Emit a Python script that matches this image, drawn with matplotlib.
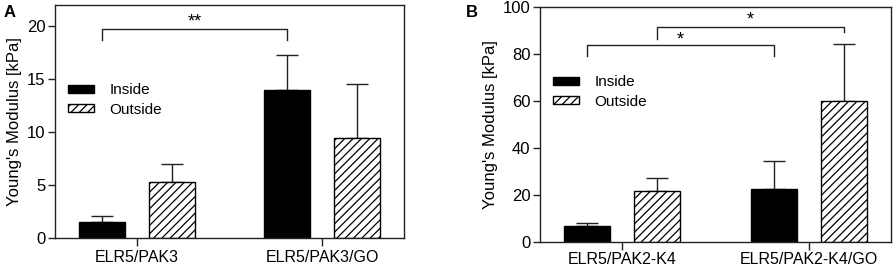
import matplotlib
matplotlib.use("Agg")
import matplotlib.pyplot as plt
import numpy as np

plt.rcParams["font.family"] = ["Liberation Sans", "DejaVu Sans"]
plt.rcParams["hatch.linewidth"] = 0.9

# panel A
groups_a = ["ELR5/PAK3", "ELR5/PAK3/GO"]
inside_a = [1.55, 14.0]
inside_err_a = [0.53, 3.3]
outside_a = [5.27, 9.43]
outside_err_a = [1.7, 5.07]

# panel B
groups_b = ["ELR5/PAK2-K4", "ELR5/PAK2-K4/GO"]
inside_b = [6.7, 22.7]
inside_err_b = [1.55, 11.8]
outside_b = [21.7, 60.2]
outside_err_b = [5.5, 24.1]

dark = "#222222"
w = 0.247
off = 0.188


def draw_panel(ax, groups, ins, ins_err, outs, outs_err, ymax, ticks, leg_y, xpad):
    x = np.arange(len(groups))
    ax.bar(x - off, ins, w, color="black", edgecolor="black", linewidth=1.0, label="Inside", zorder=2)
    ax.bar(x + off, outs, w, color="white", edgecolor="black", hatch="////", linewidth=1.0,
           label="Outside", zorder=2)
    for xs, vals, errs in [(x - off, ins, ins_err), (x + off, outs, outs_err)]:
        ax.errorbar(xs, vals, yerr=[np.zeros(len(errs)), errs], fmt="none", ecolor=dark,
                    elinewidth=1.0, capsize=8, capthick=1.0, zorder=1)
    ax.set_xlim(-0.44, 1.44)
    ax.set_ylim(0, ymax)
    ax.set_yticks(ticks)
    ax.set_xticks(x)
    ax.set_xticklabels(groups, fontsize=11.5)
    ax.tick_params(axis="y", labelsize=12, length=5, width=1.0, color=dark, pad=2)
    ax.tick_params(axis="x", length=6, width=1.0, color=dark, pad=xpad)
    for s in ax.spines.values():
        s.set_color(dark)
        s.set_linewidth(1.0)
    ax.set_ylabel("Young's Modulus [kPa]", fontsize=12, labelpad=3)
    ax.legend(loc="upper left", bbox_to_anchor=(0.02, leg_y), frameon=False, fontsize=11,
              handlelength=1.7, handleheight=0.45, labelspacing=0.35, handletextpad=1.0,
              borderaxespad=0)


def bracket(ax, x0, x1, y, y0, y1, txt, ty):
    ax.plot([x0, x0, x1, x1], [y0, y, y, y1], color=dark, lw=1.0, zorder=3)
    ax.text((x0 + x1) / 2, ty, txt, ha="center", va="center", fontsize=13)


fig = plt.figure(figsize=(8.93, 2.68), dpi=100)
ax_a = fig.add_axes([0.0616, 0.112, 0.3908, 0.869])
ax_b = fig.add_axes([0.6047, 0.097, 0.3930, 0.877])

draw_panel(ax_a, groups_a, inside_a, inside_err_a, outside_a, outside_err_a, 22,
           [0, 5, 10, 15, 20], 0.69, 3)
bracket(ax_a, -off, 1 - off, 19.75, 18.7, 18.7, "**", 20.4)

draw_panel(ax_b, groups_b, inside_b, inside_err_b, outside_b, outside_err_b, 100,
           [0, 20, 40, 60, 80, 100], 0.735, 1.5)
bracket(ax_b, -off, 1 - off, 83.7, 79, 79, "*", 86.0)
bracket(ax_b, off, 1 + off, 91.5, 86.5, 89.4, "*", 94.5)

fig.text(0.004, 0.955, "A", fontsize=12, fontweight="bold", va="center")
fig.text(0.522, 0.955, "B", fontsize=12, fontweight="bold", va="center")

fig.savefig("out.png", dpi=100)
